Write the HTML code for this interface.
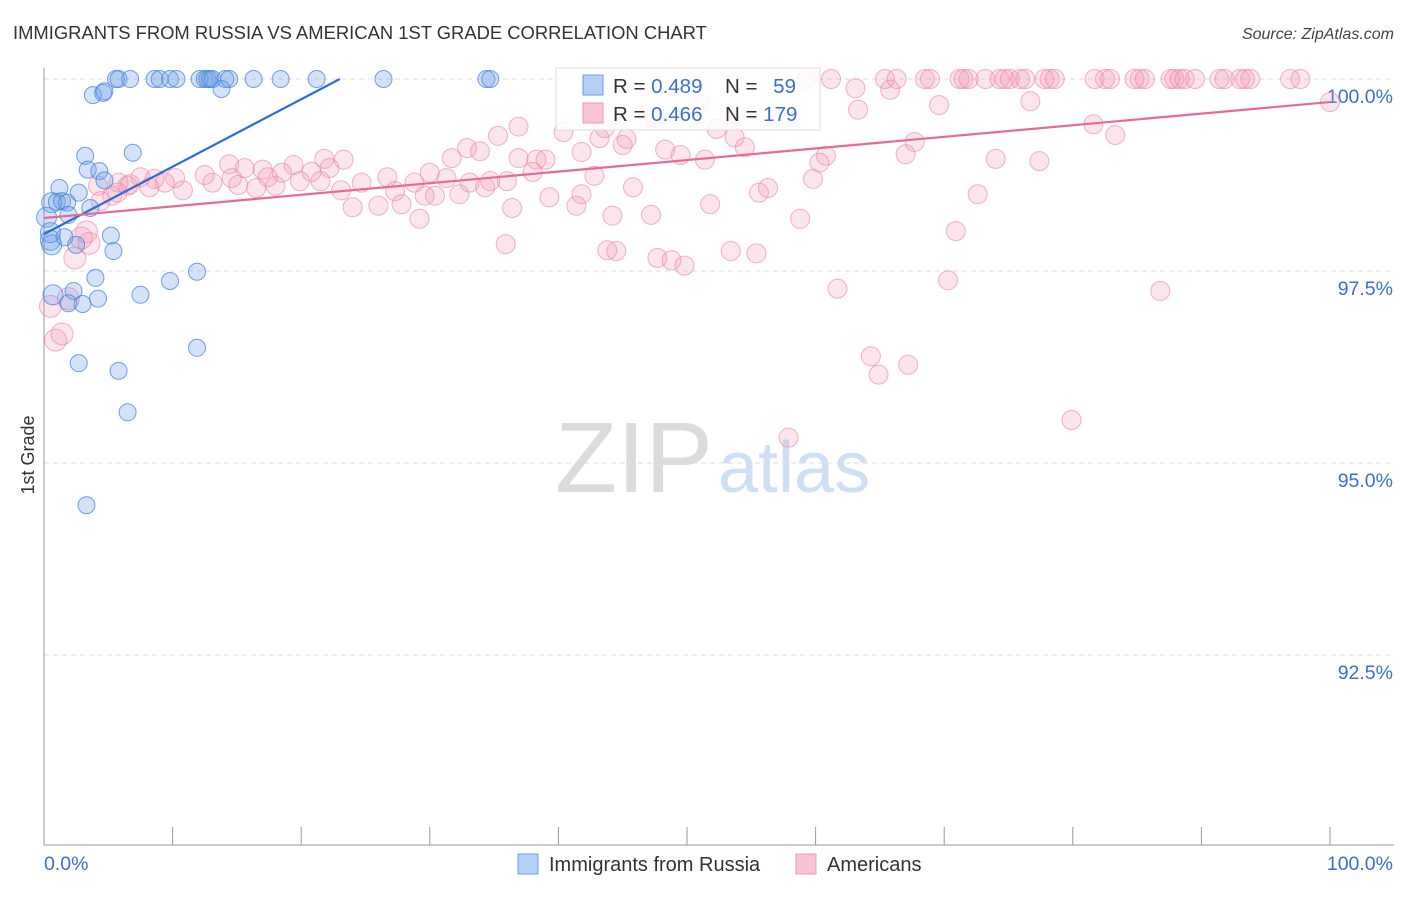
<!DOCTYPE html>
<html><head><meta charset="utf-8"><style>
body{margin:0;background:#fff;font-family:"Liberation Sans",sans-serif;}
svg text{font-family:"Liberation Sans",sans-serif;}
</style></head><body>
<svg id="chart" width="1406" height="892" xmlns="http://www.w3.org/2000/svg">
<text x="13" y="39" font-size="18.4" fill="#333">IMMIGRANTS FROM RUSSIA VS AMERICAN 1ST GRADE CORRELATION CHART</text>
<text x="1394" y="39" font-size="16" fill="#444" text-anchor="end" font-style="italic">Source: ZipAtlas.com</text>
<text x="555" y="492" font-size="100" fill="#dcdcdc" font-family="Liberation Serif,serif" textLength="158" lengthAdjust="spacingAndGlyphs">ZIP</text>
<text x="718" y="492" font-size="72" fill="#cfe0f5">atlas</text>
<g id="grid"></g>
<line x1="44" y1="68" x2="44" y2="845" stroke="#999"/>
<line x1="44" y1="845" x2="1394" y2="845" stroke="#999"/>
<g id="xticks"></g>
<text transform="translate(34,455) rotate(-90)" font-size="18" fill="#333" text-anchor="middle">1st Grade</text>
<text x="44" y="870" font-size="19.5" fill="#3a6fd0">0.0%</text>
<text x="1393" y="870" font-size="19.5" fill="#3a6fd0" text-anchor="end">100.0%</text>
<g id="pink"></g><g id="blue"></g><g id="lines"></g>
<g>
<rect x="556" y="68" width="264" height="62" fill="#fff" fill-opacity="0.85" stroke="#ddd"/>
<rect x="583" y="75" width="20" height="20" fill="#b5cff5" stroke="#6b9be0"/>
<rect x="583" y="103" width="20" height="20" fill="#f8c3d3" stroke="#eb9ab3"/>
<text x="613" y="93" font-size="20.5" fill="#333">R = <tspan fill="#3a6fd0">0.489</tspan></text>
<text x="725" y="93" font-size="20.5" fill="#333">N = <tspan fill="#3a6fd0" dx="10">59</tspan></text>
<text x="613" y="121" font-size="20.5" fill="#333">R = <tspan fill="#3a6fd0">0.466</tspan></text>
<text x="725" y="121" font-size="20.5" fill="#333">N = <tspan fill="#3a6fd0">179</tspan></text>
</g>
<g>
<rect x="518" y="854" width="20" height="20" fill="#b5cff5" stroke="#6b9be0"/>
<text x="549" y="871" font-size="20" fill="#333">Immigrants from Russia</text></g>
<g>
<rect x="796" y="854" width="20" height="20" fill="#f8c3d3" stroke="#eb9ab3"/>
<text x="827" y="871" font-size="20" fill="#333">Americans</text></g>
</svg>
<script>
const yTicks=[100,97.5,95,92.5];
const yTickLabels=["100.0%","97.5%","95.0%","92.5%"];
const xTicks=[0,10,20,30,40,50,60,70,80,90,100];
const blueX=[5.6,5.8,6.7,8.6,9.0,9.8,10.3,12.1,12.5,12.7,12.9,13.1,14.1,14.4,16.3,18.4,21.2,26.4,34.4,34.7,3.8,4.6,4.7,13.8,3.2,6.9,3.4,4.3,4.7,1.2,2.7,0.6,1.0,1.4,1.8,3.6,1.9,0.2,0.5,0.6,1.6,5.2,2.5,5.4,0.7,2.3,1.9,3.0,4.2,4.0,7.5,9.8,11.9,2.7,5.8,11.9,6.5,3.3,0.5];
const blueY=[100,100,100,100,100,100,100,100,100,100,100,100,100,100,100,100,100,100,100,100,99.79,99.82,99.84,99.87,99.0,99.04,98.82,98.80,98.68,98.58,98.52,98.39,98.40,98.41,98.39,98.32,98.23,98.2,97.9,97.84,97.94,97.96,97.84,97.76,97.19,97.24,97.08,97.07,97.14,97.41,97.19,97.37,97.49,96.30,96.20,96.50,95.66,94.45,98.0];
const pinkX=[59.3,61.2,65.4,66.3,68.5,68.9,71.2,71.5,71.9,73.2,74.3,74.7,75.1,75.9,76.3,77.8,78.2,78.6,81.7,82.5,82.9,84.8,85.2,85.6,87.6,87.9,88.3,88.7,89.5,91.4,91.8,93.0,93.4,93.8,96.9,97.7,
63.1,65.8,76.7,69.6,63.3,100,81.6,52.3,53.7,54.5,36.9,40.4,43.2,45.3,41.8,48.3,49.5,51.4,45.0,32.9,33.9,31.7,35.3,36.9,38.3,39.0,67.0,67.7,74.0,77.4,83.3,60.8,60.3,14.4,15.6,17.0,19.4,21.8,23.3,22.2,20.8,18.5,17.4,14.6,12.5,10.2,8.6,7.5,6.5,5.3,4.2,5.8,8.2,9.4,10.8,13.1,15.1,16.5,18.0,19.9,21.5,23.1,24.7,26.7,27.3,28.8,30.0,31.3,33.1,34.7,38.0,42.8,29.6,30.4,32.3,34.3,36.0,39.3,41.4,41.8,44.2,47.2,45.8,51.8,55.6,56.3,59.8,58.8,44.5,43.8,47.7,48.8,49.8,53.4,55.4,35.9,72.6,70.9,61.7,70.3,86.8,64.3,64.9,67.2,79.9,57.9,26.0,24.0,27.8,29.2,36.4,0.5,0.9,1.4,1.9,2.4,3.3,3.5,2.9,4.4,5.7,6.7,51.0,53.7,43.6,47.5];
const pinkY=[100,100,100,100,100,100,100,100,100,100,100,100,100,100,100,100,100,100,100,100,100,100,100,100,100,100,100,100,100,100,100,100,100,100,100,100,
99.88,99.86,99.71,99.66,99.60,99.70,99.41,99.35,99.24,99.11,99.38,99.31,99.23,99.22,99.05,99.08,99.01,98.95,99.14,99.10,99.06,98.97,99.26,98.97,98.95,98.95,99.02,99.18,98.96,98.93,99.27,99.0,98.91,98.89,98.84,98.82,98.88,98.96,98.95,98.84,98.79,98.78,98.72,98.71,98.75,98.71,98.70,98.72,98.61,98.48,98.61,98.65,98.59,98.65,98.55,98.65,98.62,98.58,98.61,98.67,98.67,98.55,98.65,98.72,98.54,98.65,98.78,98.71,98.65,98.67,98.79,98.74,98.48,98.48,98.50,98.59,98.67,98.46,98.35,98.50,98.22,98.23,98.59,98.37,98.52,98.58,98.70,98.18,97.76,97.77,97.67,97.64,97.57,97.76,97.73,97.85,98.50,98.02,97.27,97.38,97.24,96.39,96.15,96.28,95.56,95.33,98.35,98.33,98.37,98.18,98.32,97.04,96.60,96.68,97.14,97.67,98.01,97.86,97.93,98.41,98.52,98.63,99.69,99.54,99.36,99.49];
const blueTrend=[97.98,0.0878];
const pinkTrend=[98.19,0.0151];
const NS="http://www.w3.org/2000/svg";
const xs=v=>44+v*12.86, ys=v=>79+(100-v)*76.8;
function mk(t,a,p){const e=document.createElementNS(NS,t);for(const k in a)e.setAttribute(k,a[k]);document.getElementById(p).appendChild(e);return e;}
yTicks.forEach((t,i)=>{
 const l=mk('line',{x1:44,x2:1394,y1:ys(t),y2:ys(t),stroke:'#ddd','stroke-dasharray':'5,4'},'grid');
 
 
 const tx=mk('text',{x:1393,y:ys(t)+24,'font-size':19.5,fill:'#3a6fd0','text-anchor':'end'},'grid');
 tx.textContent=yTickLabels[i];
 
 
});
xTicks.forEach(t=>{
 const l=mk('line',{x1:xs(t),x2:xs(t),y1:827,y2:845,stroke:'#999'},'xticks');
 
 
});
pinkX.forEach((x,i)=>{
 const c=mk('circle',{cx:xs(x),cy:ys(pinkY[i]),r:(x<4?11:9.5),fill:'rgba(244,150,178,0.25)',stroke:'rgba(233,130,162,0.6)','stroke-width':1},'pink');
 
 
});
blueX.forEach((x,i)=>{
 const c=mk('circle',{cx:xs(x),cy:ys(blueY[i]),r:(x<1?10:8.5),fill:'rgba(110,160,232,0.3)',stroke:'rgba(70,130,220,0.75)','stroke-width':1},'blue');
 
 
});
const bx1=(100-blueTrend[0])/blueTrend[1];
const bl=mk('line',{x1:xs(0),y1:ys(blueTrend[0]),x2:xs(bx1),y2:ys(100),stroke:'#2a6fd6','stroke-width':2.2},'lines');


const pl=mk('line',{x1:xs(0),y1:ys(pinkTrend[0]),x2:xs(100),y2:ys(pinkTrend[0]+pinkTrend[1]*100),stroke:'#e8689a','stroke-width':2.2},'lines');


</script>
</body></html>
